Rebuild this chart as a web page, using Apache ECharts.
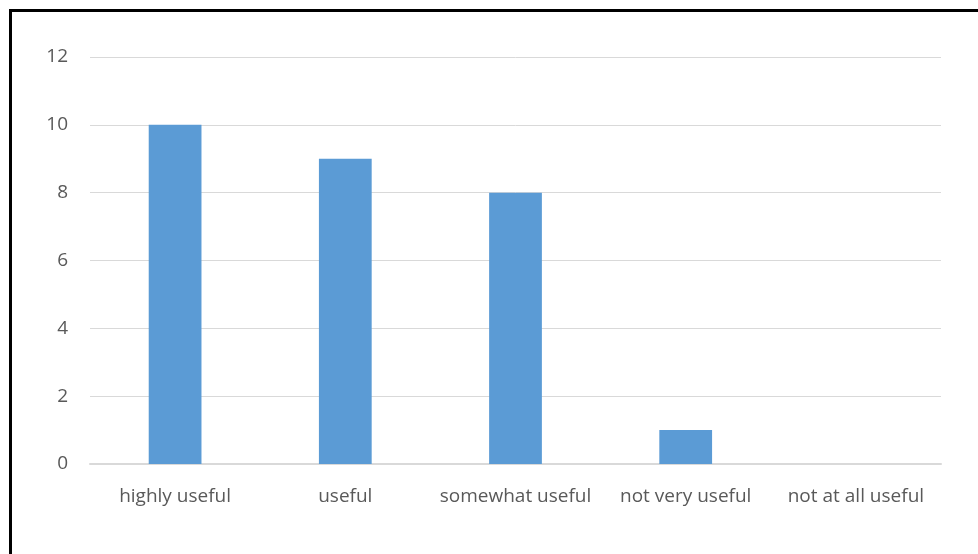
<!DOCTYPE html>
<html>
<head>
<meta charset="utf-8">
<script src="https://cdn.jsdelivr.net/npm/echarts@6/dist/echarts.min.js"></script>
<style>
html,body{margin:0;padding:0;background:#fff;}
#chart{width:978px;height:554px;}
</style>
</head>
<body>
<div id="chart"></div>
<script>
const categories = ["highly useful", "useful", "somewhat useful", "not very useful", "not at all useful"];
const values = [10, 9, 8, 1, 0];
const yTicks = [0, 2, 4, 6, 8, 10, 12];

const chart = echarts.init(document.getElementById('chart'), null, {renderer: 'canvas'});
chart.setOption({
  backgroundColor: '#ffffff',
  animation: false,
  graphic: [{
    type: 'rect',
    left: 8, top: 8,
    shape: {x: 0, y: 0, width: 1000, height: 600},
    style: {fill: 'none', stroke: '#000', lineWidth: 3},
    z: 100
  }],
  grid: {left: 90, right: 37, top: 57, bottom: 90, containLabel: false},
  xAxis: {
    type: 'category',
    data: categories,
    axisLine: {show: true, lineStyle: {color: '#d9d9d9', width: 2}},
    axisTick: {show: false},
    axisLabel: {color: '#595959', fontSize: 19, fontFamily: 'Open Sans', margin: 23, interval: 0, hideOverlap: false}
  },
  yAxis: {
    type: 'value',
    min: yTicks[0], max: yTicks[yTicks.length - 1], interval: 2,
    axisLine: {show: false},
    axisTick: {show: false},
    splitLine: {lineStyle: {color: '#d9d9d9', width: 1}},
    axisLabel: {color: '#595959', fontSize: 19, fontFamily: 'Open Sans', margin: 22}
  },
  series: [{
    type: 'bar',
    data: values,
    barWidth: '31%',
    itemStyle: {color: '#5b9bd5'}
  }]
});
</script>
</body>
</html>
